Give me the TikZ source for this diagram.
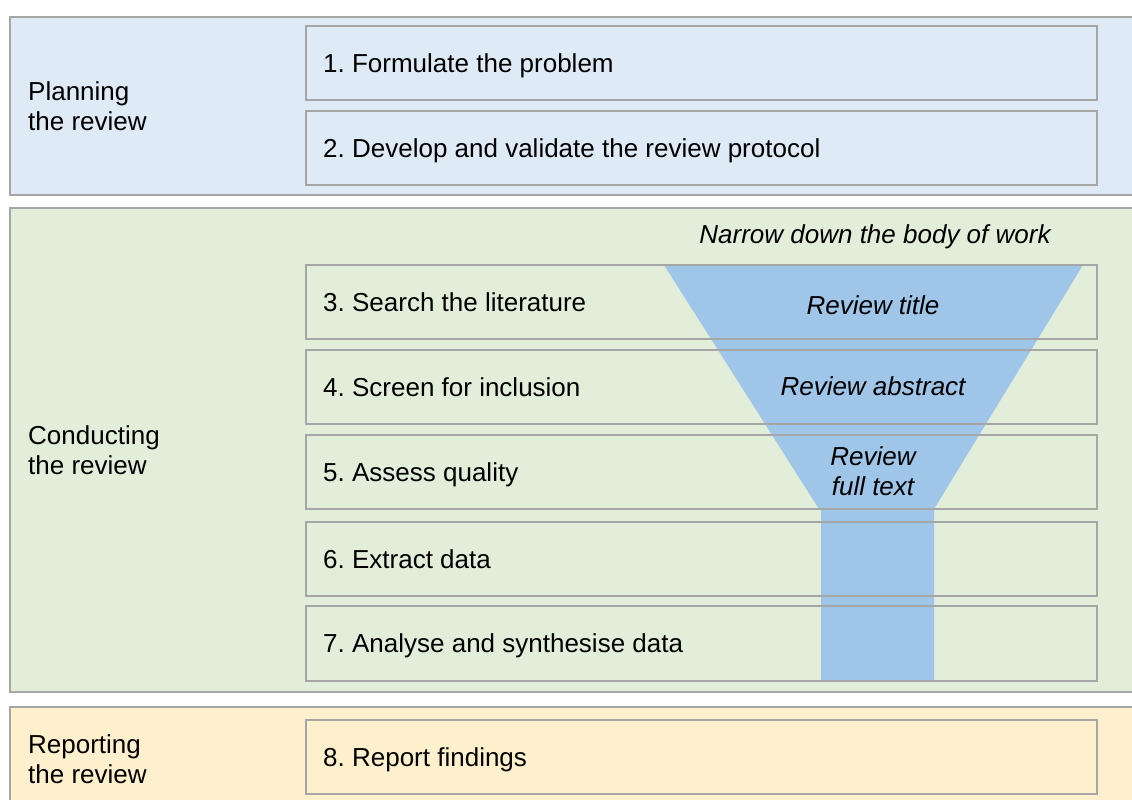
\documentclass[tikz,border=0pt]{standalone}
\usepackage{fontspec}
\setmainfont{Liberation Sans}
\frenchspacing
\definecolor{planfill}{HTML}{DEEAF6}
\definecolor{condfill}{HTML}{E2EEDA}
\definecolor{repfill}{HTML}{FFF0CD}
\definecolor{funnelfill}{HTML}{9FC5E8}
\definecolor{bordergray}{HTML}{A6A6A6}
\tikzset{
  panel/.style={draw=bordergray, line width=2pt},
  stepbox/.style={draw=bordergray, line width=2pt},
  steplabel/.style={anchor=base west, inner sep=0pt, font=\fontsize{26}{30}\selectfont},
  phaselabel/.style={anchor=west, inner sep=0pt, align=left, font=\fontsize{26}{30}\selectfont},
  funnellabel/.style={inner sep=0pt, align=center, font=\fontsize{26}{30}\selectfont\itshape},
}
\begin{document}
\begin{tikzpicture}[x=1pt,y=-1pt]
\useasboundingbox (0,0) rectangle (1132,800);
\clip (0,0) rectangle (1132,800);
% panels
\path[panel, fill=planfill] (10,17) rectangle (1145,195);
\path[panel, fill=condfill] (10,208) rectangle (1145,692);
\path[panel, fill=repfill] (10,707) rectangle (1145,815);
% funnel
\fill[funnelfill] (664,265) -- (1083,265) -- (934,509) -- (934,681) -- (821,681) -- (821,509) -- (819,509) -- cycle;
% step boxes
\draw[stepbox] (306,26) rectangle (1097,100);
\draw[stepbox] (306,111) rectangle (1097,185);
\draw[stepbox] (306,265) rectangle (1097,339);
\draw[stepbox] (306,350) rectangle (1097,424);
\draw[stepbox] (306,435) rectangle (1097,509);
\draw[stepbox] (306,522) rectangle (1097,596);
\draw[stepbox] (306,606) rectangle (1097,681);
\draw[stepbox] (306,720) rectangle (1097,794);
% step labels
\node[steplabel] (s1) at (323,72) {1. Formulate the problem};
\node[steplabel] (s2) at (323,157) {2. Develop and validate the review protocol};
\node[steplabel] (s3) at (323,311) {3. Search the literature};
\node[steplabel] (s4) at (323,396) {4. Screen for inclusion};
\node[steplabel] (s5) at (323,481) {5. Assess quality};
\node[steplabel] (s6) at (323,568) {6. Extract data};
\node[steplabel] (s7) at (323,652) {7. Analyse and synthesise data};
\node[steplabel] (s8) at (323,766) {8. Report findings};
% phase labels
\node[phaselabel] (p1) at (28,106) {Planning\\the review};
\node[phaselabel] (p2) at (28,450) {Conducting\\the review};
\node[phaselabel] (p3) at (28,759) {Reporting\\the review};
% funnel labels
\node[funnellabel] (t0) at (875,237) {Narrow down the body of work};
\node[funnellabel] (t1) at (873,305) {Review title};
\node[funnellabel] (t2) at (873,386) {Review abstract};
\node[funnellabel] (t3) at (873,471) {Review\\full text};
\end{tikzpicture}
\end{document}
